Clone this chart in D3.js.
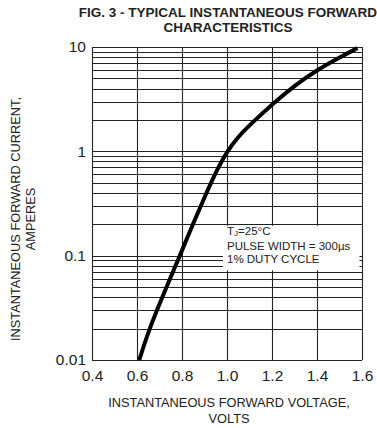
<!DOCTYPE html>
<html><head><meta charset="utf-8">
<script src="https://cdn.jsdelivr.net/npm/d3@7"></script>
<style>body{margin:0;background:#fff}svg{display:block}text{font-family:"Liberation Sans",Arial,Helvetica,sans-serif;fill:#222}</style>
</head><body>
<script>
const voltage = [0.61, 0.65, 0.70, 0.80, 0.85, 0.90, 0.95, 1.00, 1.05, 1.10, 1.20, 1.30, 1.40, 1.50, 1.58];
const current = [0.01, 0.0186, 0.0347, 0.112, 0.204, 0.363, 0.63, 1.00, 1.38, 1.78, 2.82, 4.27, 6.03, 7.94, 9.77];
const xTicks = [0.4, 0.6, 0.8, 1.0, 1.2, 1.4, 1.6];
const yTicks = [0.01, 0.1, 1, 10];
const yTickLabels = ["0.01", "0.1", "1", "10"];
const titleLines = ["FIG. 3 - TYPICAL INSTANTANEOUS FORWARD", "CHARACTERISTICS"];
const xTitleLines = ["INSTANTANEOUS FORWARD VOLTAGE,", "VOLTS"];
const yTitleLines = ["INSTANTANEOUS FORWARD CURRENT,", "AMPERES"];

const W = 377, H = 428;
const m = {left: 92, right: 15, top: 47, bottom: 68};
const svg = d3.select("body").append("svg").attr("width", W).attr("height", H);
const x = d3.scaleLinear().domain([0.4, 1.6]).range([m.left, W - m.right]);
const y = d3.scaleLog().domain([0.01, 10]).range([H - m.bottom, m.top]);
const gridColor = "#222";

// minor/major horizontal grid
const hLines = [];
[0.01, 0.1, 1].forEach(d => { for (let k = 1; k <= 10; k++) hLines.push(+(d * k).toPrecision(3)); });
svg.append("g").selectAll("line").data(hLines).join("line")
  .attr("x1", x(0.4)).attr("x2", x(1.6))
  .attr("y1", d => Math.round(y(d)) + 0.5).attr("y2", d => Math.round(y(d)) + 0.5)
  .attr("stroke", gridColor).attr("stroke-width", 1.1);
svg.append("g").selectAll("line").data(xTicks).join("line")
  .attr("x1", d => Math.round(x(d)) + 0.5).attr("x2", d => Math.round(x(d)) + 0.5)
  .attr("y1", y(10)).attr("y2", y(0.01))
  .attr("stroke", gridColor).attr("stroke-width", 1.1);

// annotation box
svg.append("rect").attr("x", x(1.00) - 4).attr("y", y(0.2) + 1.5)
  .attr("width", x(1.58) - x(1.00) + 6).attr("height", y(0.07) - y(0.2) - 3)
  .attr("fill", "#fff");
const ann = svg.append("g").attr("font-size", 11.5);
const t1 = ann.append("text").attr("x", x(1.0)).attr("y", y(0.2) + 11);
t1.append("tspan").text("T");
t1.append("tspan").attr("font-size", 8).attr("dy", 1).text("J");
t1.append("tspan").attr("dy", -1).text("=25°C");
ann.append("text").attr("x", x(1.0)).attr("y", y(0.2) + 25.5).text("PULSE WIDTH = 300µs");
ann.append("text").attr("x", x(1.0)).attr("y", y(0.2) + 38.5).text("1% DUTY CYCLE");

// curve
const line = d3.line().x((d, i) => x(voltage[i])).y(d => y(d)).curve(d3.curveBasis);
svg.append("path").datum(current).attr("d", line)
  .attr("fill", "none").attr("stroke", "#000").attr("stroke-width", 4).attr("stroke-linecap", "butt");

// axes
const xAxis = d3.axisBottom(x).tickValues(xTicks).tickFormat(d3.format(".1f")).tickSize(0).tickPadding(10);
const gx = svg.append("g").attr("transform", `translate(0,${y(0.01)})`).call(xAxis);
gx.select(".domain").remove();
gx.selectAll("text").attr("font-size", 15.5).attr("fill", "#222").attr("font-family", "Liberation Sans, Arial, sans-serif");
const yAxis = d3.axisLeft(y).tickValues(yTicks).tickFormat((d, i) => yTickLabels[i]).tickSize(0).tickPadding(6);
const gy = svg.append("g").attr("transform", `translate(${x(0.4)},0)`).call(yAxis);
gy.select(".domain").remove();
gy.selectAll("text").attr("font-size", 15.5).attr("fill", "#222").attr("font-family", "Liberation Sans, Arial, sans-serif");

// titles
svg.append("g").selectAll("text").data(titleLines).join("text")
  .attr("x", 228).attr("y", (d, i) => 17 + i * 15)
  .attr("text-anchor", "middle").attr("font-size", 13.5).attr("font-weight", "bold").text(d => d);
svg.append("g").selectAll("text").data(xTitleLines).join("text")
  .attr("x", 229).attr("y", (d, i) => 407 + i * 16)
  .attr("text-anchor", "middle").attr("font-size", 12.8).text(d => d);
svg.append("g").selectAll("text").data(yTitleLines).join("text")
  .attr("transform", (d, i) => `translate(${20 + i * 15},219) rotate(-90)`)
  .attr("text-anchor", "middle").attr("font-size", 12.8).text(d => d);
</script>
</body></html>
